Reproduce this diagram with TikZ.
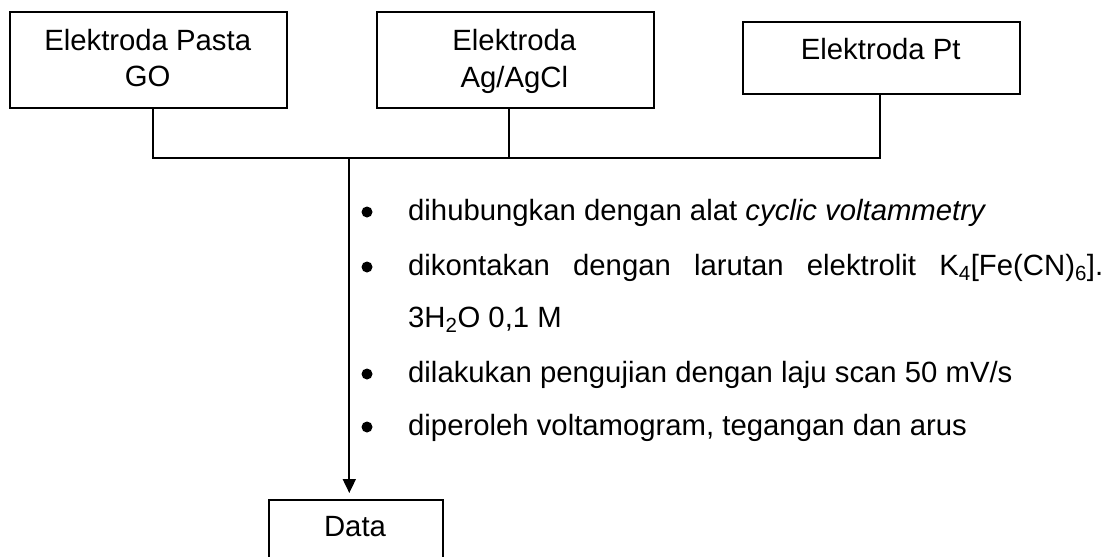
\documentclass[tikz,border=0pt]{standalone}
\usepackage{fontspec}
\setmainfont{Liberation Sans}
\usetikzlibrary{arrows.meta}
\begin{document}
\begin{tikzpicture}[x=1pt,y=-1pt,
  box/.style={draw, line width=1.8pt, rectangle, inner sep=0pt, anchor=north west},
  txt/.style={anchor=base, inner sep=0pt, font=\fontsize{29.3}{36}\selectfont},
  conn/.style={line width=1.8pt},
  blt/.style={circle, fill, inner sep=0pt, minimum size=11pt}]
\useasboundingbox (0,0) rectangle (1114,557);
\clip (0,0) rectangle (1114,557);
% boxes
\node[box, minimum width=276.7pt, minimum height=96pt] (b1) at (9.3,10.7) {};
\node[box, minimum width=276.7pt, minimum height=96pt] (b2) at (376,10.7) {};
\node[box, minimum width=276.7pt, minimum height=72.3pt] (b3) at (742.3,21) {};
\node[box, minimum width=174pt, minimum height=100pt] (data) at (268,499) {};
% box texts
\node[txt] (t1a) at (147.7,50) {Elektroda Pasta};
\node[txt] (t1b) at (147.7,86) {GO};
\node[txt] (t2a) at (514.3,50) {Elektroda};
\node[txt] (t2b) at (514.3,87) {Ag/AgCl};
\node[txt] (t3) at (880.7,59.3) {Elektroda Pt};
\node[txt] (td) at (355,536.7) {Data};
% connectors
\coordinate (j1) at (153.3,158.3);
\coordinate (j2) at (509.3,158.3);
\coordinate (j3) at (879.7,158.3);
\coordinate (ja) at (349.3,158.3);
\draw[conn] (b1.south -| j1) -- (j1) -- (j3) -- (b3.south -| j3);
\draw[conn] (b2.south -| j2) -- (j2);
\draw[conn, -{Triangle[length=14pt,width=13pt]}, shorten >=6pt] (ja) -- (data.north -| ja);
% list
\node[blt] (u1) at (367,212) {};
\node[txt, anchor=base west] (l1) at (408,220) {dihubungkan dengan alat \textit{cyclic voltammetry}};
\node[blt] (u2) at (367,267) {};
\node[txt, anchor=base west] (l2) at (408,275) {\hbox to 695pt{dikontakan\hfill dengan\hfill larutan\hfill elektrolit\hfill K\textsubscript{4}[Fe(CN)\textsubscript{6}].}};
\node[txt, anchor=base west] (l2b) at (408,327) {3H\textsubscript{2}O 0,1 M};
\node[blt] (u3) at (367,374) {};
\node[txt, anchor=base west] (l3) at (408,382) {dilakukan pengujian dengan laju scan 50 mV/s};
\node[blt] (u4) at (367,427) {};
\node[txt, anchor=base west] (l4) at (408,435) {diperoleh voltamogram, tegangan dan arus};
\end{tikzpicture}
\end{document}
